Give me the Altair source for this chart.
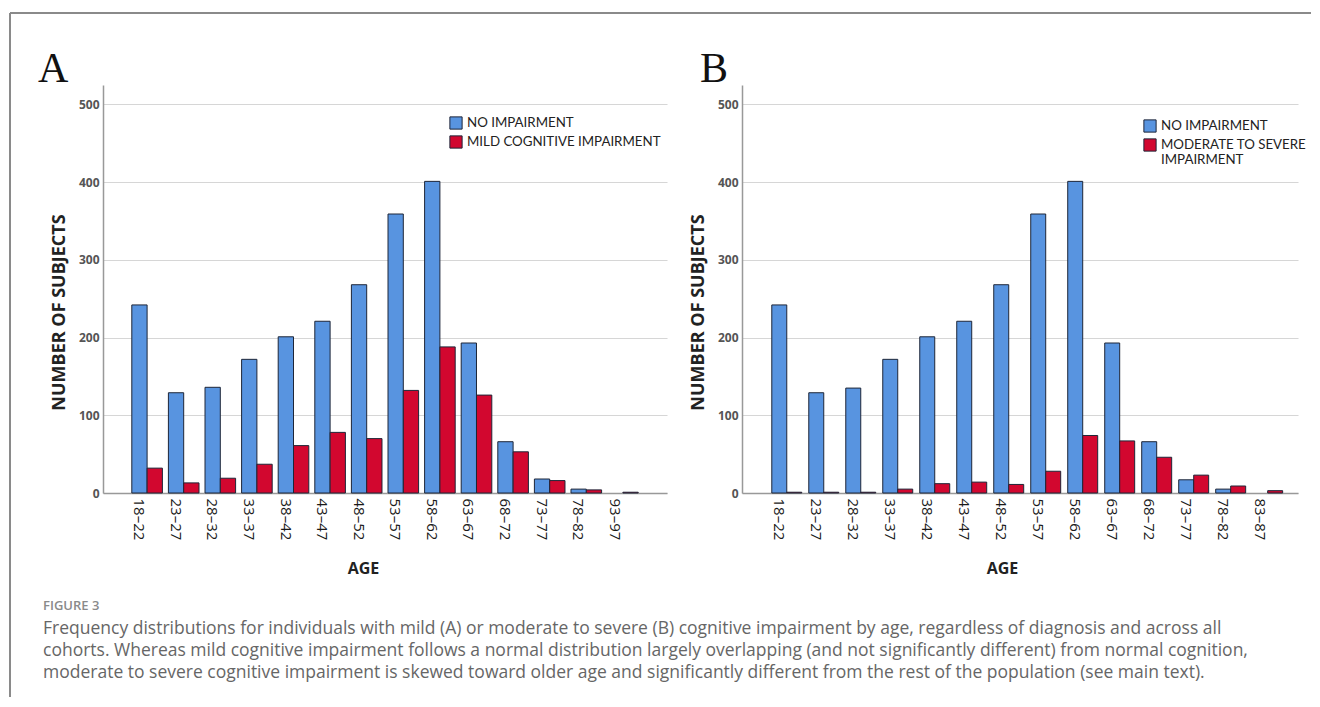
import altair as alt
import pandas as pd

# ---------------- data ----------------
ages_a = ["18–22", "23–27", "28–32", "33–37", "38–42", "43–47", "48–52",
          "53–57", "58–62", "63–67", "68–72", "73–77", "78–82", "93–97"]
ages_b = ["18–22", "23–27", "28–32", "33–37", "38–42", "43–47", "48–52",
          "53–57", "58–62", "63–67", "68–72", "73–77", "78–82", "83–87"]
no_impairment_a = [242, 129, 136, 172, 201, 221, 268, 359, 401, 193, 66, 18, 5, 0]
mild_impairment = [32, 13, 19, 37, 61, 78, 70, 132, 188, 126, 53, 16, 4, 1]
no_impairment_b = [242, 129, 135, 172, 201, 221, 268, 359, 401, 193, 66, 17, 5, 0]
severe_impairment = [1, 1, 1, 5, 12, 14, 11, 28, 74, 67, 46, 23, 9, 3]
series_a = ["NO IMPAIRMENT", "MILD COGNITIVE IMPAIRMENT"]
series_b = ["NO IMPAIRMENT", "MODERATE TO SEVERE IMPAIRMENT"]
y_ticks = [0, 100, 200, 300, 400, 500]
panel_letters = ["A", "B"]
figure_label = "FIGURE 3"
caption_lines = [
    "Frequency distributions for individuals with mild (A) or moderate to severe (B) cognitive impairment by age, regardless of diagnosis and across all",
    "cohorts. Whereas mild cognitive impairment follows a normal distribution largely overlapping (and not significantly different) from normal cognition,",
    "moderate to severe cognitive impairment is skewed toward older age and significantly different from the rest of the population (see main text).",
]

BLUE = "#5894E0"
RED = "#D2072F"
EDGE = "#1e2638"


def make_df(ages, s1, v1, s2, v2):
    rows = []
    for a, x, y in zip(ages, v1, v2):
        rows.append({"age": a, "group": s1, "count": x})
        rows.append({"age": a, "group": s2, "count": y})
    df = pd.DataFrame(rows)
    return df[df["count"] > 0]


df_a = make_df(ages_a, series_a[0], no_impairment_a, series_a[1], mild_impairment)
df_b = make_df(ages_b, series_b[0], no_impairment_b, series_b[1], severe_impairment)


def panel(df, ages, series, width, p_inner, p_outer, align, lx, ly, letter, letter_x, label_expr=None):
    legend_kw = dict(orient="none", legendX=lx, legendY=ly, title=None,
                     symbolType="square", symbolSize=150, symbolStrokeColor=EDGE,
                     symbolStrokeWidth=1, symbolOpacity=1, labelFont="Lato",
                     labelFontSize=13.3, labelColor="#222", rowPadding=1,
                     labelOffset=4, padding=0, labelLimit=400)
    if label_expr:
        legend_kw["labelExpr"] = label_expr
    bars = alt.Chart(df).mark_bar(stroke=EDGE, strokeWidth=1, opacity=1).encode(
        x=alt.X("age:N", sort=ages,
                scale=alt.Scale(domain=ages, paddingInner=p_inner, paddingOuter=p_outer, align=align),
                axis=alt.Axis(title="AGE", labelAngle=90, labelAlign="left", labelBaseline="middle",
                              labelFont="Open Sans", labelFontSize=15, labelColor="#1a1a1a",
                              labelPadding=5, labelOffset=-8, ticks=False, grid=False,
                              domainColor="#999", domainWidth=1.5,
                              titleFont="Open Sans", titleFontSize=16, titleFontWeight="bold",
                              titleColor="#222", titleX=260, titleY=75, titleBaseline="middle")),
        xOffset=alt.XOffset("group:N", sort=series,
                            scale=alt.Scale(domain=series, paddingInner=0, paddingOuter=0)),
        y=alt.Y("count:Q", scale=alt.Scale(domain=[0, 525], nice=False),
                axis=alt.Axis(values=y_ticks, title="NUMBER OF SUBJECTS",
                              titleFont="Open Sans", titleFontSize=18, titleFontWeight="bold",
                              titleColor="#222", titleX=-35, titleY=227,
                              labelFont="Open Sans", labelFontSize=12, labelFontWeight="bold",
                              labelColor="#555", labelPadding=4, ticks=False,
                              domainColor="#999", domainWidth=1.5,
                              grid=True, gridColor="#d6d6d6", gridWidth=1.2)),
        color=alt.Color("group:N", scale=alt.Scale(domain=series, range=[BLUE, RED]),
                        legend=alt.Legend(**legend_kw)),
    )
    let = alt.Chart(pd.DataFrame({"t": [letter]})).mark_text(
        font="Liberation Serif", fontSize=42, align="left", baseline="alphabetic", color="#111"
    ).encode(x=alt.value(letter_x), y=alt.value(-3), text="t:N")
    return bars, let


bars_a, let_a = panel(df_a, ages_a, series_a, 564, 0.164, 0.787, 0.5, 346, 31, panel_letters[0], -65)
bars_b, let_b = panel(df_b, ages_b, series_b, 556, 0.19, 0.61, 0.66, 401, 34, panel_letters[1], -42,
                      label_expr="datum.label == 'MODERATE TO SEVERE IMPAIRMENT' ? ['MODERATE TO SEVERE', 'IMPAIRMENT'] : datum.label")

one = pd.DataFrame({"k": [0]})
border_top = alt.Chart(one).mark_rule(color="#8a8a8a", strokeWidth=2).encode(
    x=alt.value(-93), x2=alt.value(1208), y=alt.value(-72))
border_left = alt.Chart(one).mark_rule(color="#8a8a8a", strokeWidth=2).encode(
    x=alt.value(-93), y=alt.value(-72), y2=alt.value(612))
fig_label = alt.Chart(pd.DataFrame({"t": [figure_label]})).mark_text(
    font="Open Sans", fontSize=13, fontWeight=600, color="#8a8a8a", align="left", baseline="alphabetic"
).encode(x=alt.value(-60), y=alt.value(525), text="t:N")
caption = alt.Chart(one).mark_text(
    font="Open Sans", fontSize=17.5, color="#666", align="left", baseline="alphabetic", lineHeight=22
).encode(x=alt.value(-60), y=alt.value(549), text=alt.value(caption_lines))

panel_a = alt.layer(bars_a, let_a, border_top, border_left, fig_label, caption).properties(width=564, height=408)
panel_b = alt.layer(bars_b, let_b).properties(width=556, height=408)

chart = alt.hconcat(panel_a, panel_b, spacing=75, bounds="flush").resolve_scale(
    color="independent", x="independent", xOffset="independent"
).properties(
    padding={"left": 1, "top": 4, "right": 0, "bottom": 0},
    background="white",
).configure_view(stroke=None)

chart.save("out.html", embed_options={"renderer": "svg", "actions": False})
